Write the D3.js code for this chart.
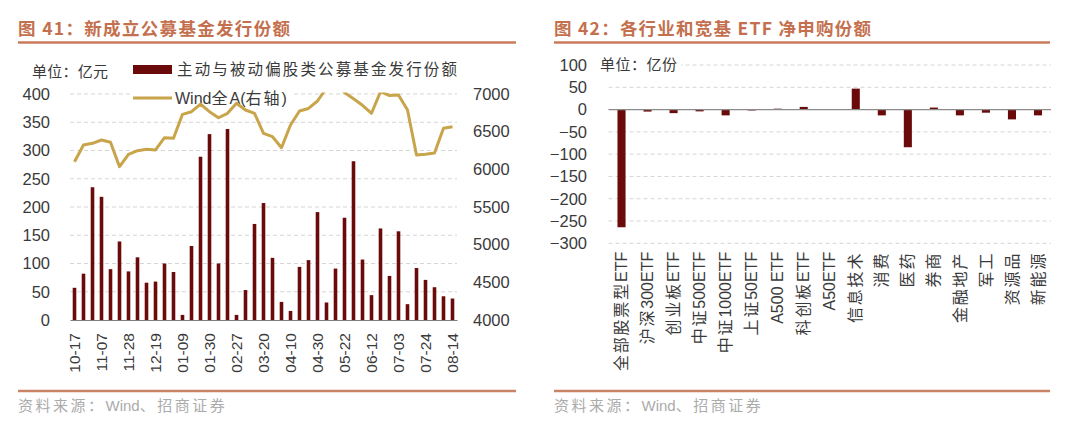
<!DOCTYPE html>
<html>
<head>
<meta charset="utf-8">
<script src="https://cdn.jsdelivr.net/npm/d3@7"></script>
<style>
  body { margin: 0; background: #fff; }
  svg text { font-family: "Liberation Sans", Arial, "Noto Sans CJK SC", sans-serif; fill: #3a3a3a; }
  .cjk { font-family: "Noto Sans CJK SC", "Liberation Sans", sans-serif; }
</style>
</head>
<body>
<svg id="chart" width="1080" height="425"></svg>
<script>
// fig 41: weekly new fund issuance (亿元) and Wind All-A index (right axis)
const fundIssue = [57, 82, 235, 218, 90, 139, 86, 111, 66, 68, 100, 85, 9, 131, 289, 329, 100, 338, 9, 53,
  170, 207, 110, 32, 16, 94, 106, 191, 31, 91, 181, 281, 107, 44, 162, 78, 157, 28, 92, 71, 58, 42, 38];
const windA = [6101, 6323, 6345, 6389, 6359, 6035, 6199, 6247, 6266, 6257, 6420, 6412, 6730, 6765, 6867, 6765,
  6685, 6744, 6877, 6788, 6744, 6478, 6433, 6287, 6588, 6775, 6808, 6907, 7080, 7150, 7020, 6936, 6850, 6744,
  7030, 6980, 6987, 6788, 6190, 6200, 6217, 6545, 6566];
const weekTicks = ['10-17', '11-07', '11-28', '12-19', '01-09', '01-30', '02-27', '03-20', '04-10', '04-30',
  '05-22', '06-12', '07-03', '07-24', '08-14'];

// fig 42: ETF net subscription (亿份)
const etfNames = ['全部股票型ETF', '沪深300ETF', '创业板ETF', '中证500ETF', '中证1000ETF', '上证50ETF', 'A500 ETF',
  '科创板ETF', 'A50ETF', '信息技术', '消费', '医药', '券商', '金融地产', '军工', '资源品', '新能源'];
const etfFlow = [-264, -4.5, -8, -4, -13, -2, 2, 6, 0.5, 47, -13, -84.5, 4.5, -13, -7, -22, -13];

const barColor = '#6b0a0a';
const lineColor = '#c8a44a';
const titleColor = '#c4704e';
const gridColor = '#d6d6d6';

const svg = d3.select('#chart');

// write mixed text: CJK runs get extra letter spacing, latin runs stay tight
const cjkRun = /([\u3000-\u9fff\uff00-\uffef]+)/;
const mixedText = (textSel, str, spacing) => {
  textSel.text(null);
  str.split(cjkRun).filter(s => s.length).forEach(part => {
    const t = textSel.append('tspan').text(part);
    if (cjkRun.test(part)) t.attr('class', 'cjk').style('letter-spacing', spacing + 'px');
  });
};

// titles, rules, footers
const addFrame = (x0, x1, title, titleLen) => {
  svg.append('text')
    .attr('class', 'cjk')
    .attr('x', x0)
    .attr('y', 35)
    .attr('textLength', titleLen)
    .attr('lengthAdjust', 'spacing')
    .style('font-size', '17.5px')
    .style('font-weight', 'bold')
    .style('fill', titleColor)
    .text(title);
  svg.append('line')
    .attr('x1', x0).attr('x2', x1)
    .attr('y1', 42.5).attr('y2', 42.5)
    .attr('stroke', '#c97b5b')
    .attr('stroke-width', 2.5);
  svg.append('line')
    .attr('x1', x0).attr('x2', x1)
    .attr('y1', 391).attr('y2', 391)
    .attr('stroke', '#c98466')
    .attr('stroke-width', 2.5);
  svg.append('text')
    .attr('x', x0)
    .attr('y', 411)
    .style('font-size', '15px')
    .style('fill', '#ababab')
    .call(mixedText, '资料来源：Wind、招商证券', 2.5);
};
addFrame(18, 516, '图 41：新成立公募基金发行份额', 272);
addFrame(554, 1050, '图 42：各行业和宽基 ETF 净申购份额', 317);

// ---------- left chart ----------
const left = svg.append('g');
const xL = d3.scaleBand()
  .domain(d3.range(fundIssue.length))
  .range([70, 457])
  .paddingInner(0.6)
  .paddingOuter(0.3);
const yL = d3.scaleLinear().domain([0, 400]).range([320, 94]);
const yR = d3.scaleLinear().domain([4000, 7000]).range([320, 94]);

left.selectAll('.grid')
  .data(d3.range(50, 401, 50))
  .enter()
  .append('line')
    .attr('x1', 70).attr('x2', 457)
    .attr('y1', d => yL(d)).attr('y2', d => yL(d))
    .attr('stroke', gridColor)
    .attr('stroke-dasharray', '4,3');

// legend backdrop hides the grid behind the legend text
left.append('rect')
  .attr('x', 130).attr('y', 86).attr('width', 163).attr('height', 17)
  .attr('fill', '#fff');

left.append('text')
  .attr('class', 'cjk')
  .attr('x', 32).attr('y', 77)
  .attr('textLength', 76)
  .attr('lengthAdjust', 'spacing')
  .style('font-size', '15px')
  .text('单位：亿元');

left.append('rect')
  .attr('x', 133).attr('y', 65).attr('width', 39).attr('height', 9)
  .attr('fill', barColor);
left.append('text')
  .attr('class', 'cjk')
  .attr('x', 177).attr('y', 75)
  .attr('textLength', 280)
  .attr('lengthAdjust', 'spacing')
  .style('font-size', '15.5px')
  .text('主动与被动偏股类公募基金发行份额');
left.append('line')
  .attr('x1', 133).attr('x2', 172)
  .attr('y1', 98).attr('y2', 98)
  .attr('stroke', lineColor)
  .attr('stroke-width', 3);
left.append('text')
  .attr('x', 175).attr('y', 104)
  .style('font-size', '16px')
  .call(mixedText, 'Wind全A(右轴)', 2);

left.selectAll('.bar')
  .data(fundIssue)
  .enter()
  .append('rect')
    .attr('x', (d, i) => xL(i))
    .attr('y', d => yL(d))
    .attr('width', xL.bandwidth())
    .attr('height', d => yL(0) - yL(d))
    .attr('fill', barColor);

svg.append('clipPath')
  .attr('id', 'plotL')
  .append('rect')
  .attr('x', 60).attr('y', 92.5).attr('width', 410).attr('height', 240);

left.append('path')
  .datum(windA)
  .attr('clip-path', 'url(#plotL)')
  .attr('fill', 'none')
  .attr('stroke', lineColor)
  .attr('stroke-width', 3)
  .attr('stroke-linejoin', 'round')
  .attr('d', d3.line()
    .x((d, i) => xL(i) + xL.bandwidth() / 2)
    .y(d => yR(d)));

const axL = left.append('g')
  .attr('transform', 'translate(50,0)')
  .call(d3.axisLeft(yL).tickValues(d3.range(0, 401, 50)).tickSize(0).tickPadding(0));
const axR = left.append('g')
  .attr('transform', 'translate(473,0)')
  .call(d3.axisRight(yR).tickValues(d3.range(4000, 7001, 500)).tickFormat(d3.format('d')).tickSize(0).tickPadding(0));
[axL, axR].forEach(g => {
  g.select('.domain').remove();
  g.selectAll('text').style('font-size', '16.5px').attr('fill', null);
});

const axB = left.append('g')
  .attr('transform', `translate(0,${yL(0)})`)
  .call(d3.axisBottom(xL)
    .tickValues(d3.range(0, fundIssue.length, 3))
    .tickFormat(i => weekTicks[i / 3])
    .tickSize(0)
    .tickSizeOuter(0));
axB.select('.domain').attr('stroke', '#7f7f7f').attr('stroke-width', 1.2);
axB.selectAll('text')
  .attr('fill', null)
  .attr('transform', 'rotate(-90)')
  .attr('text-anchor', 'end')
  .attr('x', -13)
  .attr('y', 0)
  .attr('dy', '0.35em')
  .style('font-size', '15.5px');

// ---------- right chart ----------
const right = svg.append('g');
const xE = d3.scaleBand()
  .domain(etfNames)
  .range([608.5, 1051])
  .paddingInner(0.69)
  .paddingOuter(0.345);
const yE = d3.scaleLinear().domain([-300, 100]).range([243.3, 65]);

right.selectAll('.grid')
  .data(d3.range(-300, 101, 50).filter(d => d !== 0))
  .enter()
  .append('line')
    .attr('x1', 608.5).attr('x2', 1051)
    .attr('y1', d => yE(d)).attr('y2', d => yE(d))
    .attr('stroke', gridColor)
    .attr('stroke-dasharray', '4,3');

right.append('rect')
  .attr('x', 597).attr('y', 56).attr('width', 84).attr('height', 18)
  .attr('fill', '#fff');
right.append('text')
  .attr('class', 'cjk')
  .attr('x', 600).attr('y', 70)
  .attr('textLength', 77)
  .attr('lengthAdjust', 'spacing')
  .style('font-size', '15px')
  .text('单位：亿份');

right.selectAll('.bar')
  .data(etfFlow)
  .enter()
  .append('rect')
    .attr('x', (d, i) => xE(etfNames[i]))
    .attr('y', d => yE(Math.max(0, d)))
    .attr('width', xE.bandwidth())
    .attr('height', d => Math.abs(yE(d) - yE(0)))
    .attr('fill', barColor);

right.append('line')
  .attr('x1', 608.5).attr('x2', 1051)
  .attr('y1', yE(0)).attr('y2', yE(0))
  .attr('stroke', '#8a8a8a')
  .attr('stroke-width', 1.2);

const axE = right.append('g')
  .attr('transform', 'translate(587,0)')
  .call(d3.axisLeft(yE).tickValues(d3.range(-300, 101, 50)).tickSize(0).tickPadding(0));
axE.select('.domain').remove();
axE.selectAll('text').style('font-size', '16.5px').attr('fill', null);

const axEB = right.append('g')
  .attr('transform', `translate(0,${yE(-300)})`)
  .call(d3.axisBottom(xE).tickSize(0).tickSizeOuter(0));
axEB.select('.domain').remove();
axEB.selectAll('text')
  .attr('fill', null)
  .attr('transform', 'rotate(-90)')
  .attr('text-anchor', 'end')
  .attr('x', -8.5)
  .attr('y', 0)
  .attr('dy', '0.35em')
  .style('font-size', '16px')
  .each(function (d) { d3.select(this).call(mixedText, d, 1.8); });
</script>
</body>
</html>
